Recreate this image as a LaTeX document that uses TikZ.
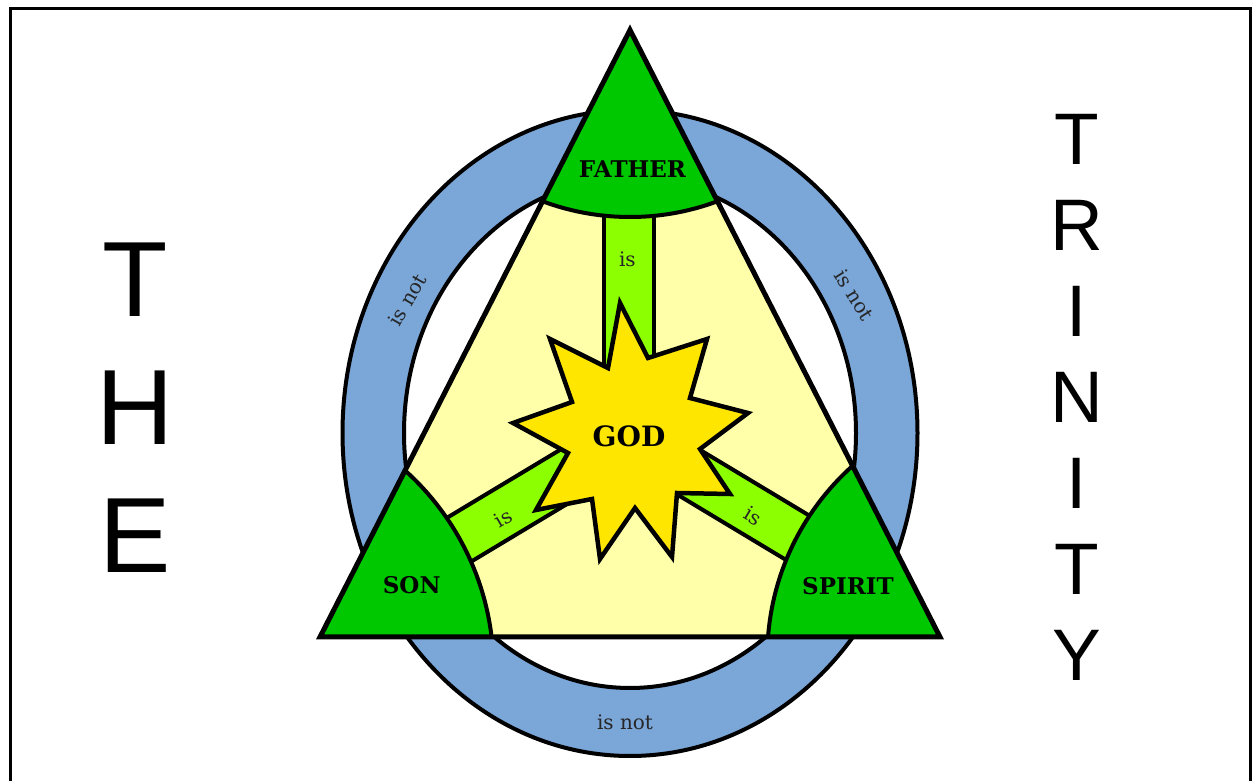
\documentclass[tikz,border=0pt]{standalone}
\usepackage{fontspec}
\setmainfont{DejaVu Serif}
\newfontfamily\titlefont{Liberation Sans}
\definecolor{ringblue}{RGB}{122,166,216}
\definecolor{greenc}{RGB}{0,200,0}
\definecolor{limeg}{RGB}{140,255,0}
\definecolor{paleyellow}{RGB}{255,255,170}
\definecolor{stary}{RGB}{255,230,0}
\begin{document}
\begin{tikzpicture}[x=1pt,y=1pt,line width=4pt,
  lbl/.style={font=\fontsize{20}{20}\selectfont, text=black!85, inner sep=0pt},
  namelbl/.style={font=\fontsize{23}{23}\selectfont\bfseries, inner sep=0pt},
  biglet/.style={font=\titlefont\fontsize{107}{107}\selectfont, inner sep=0pt},
  midlet/.style={font=\titlefont\fontsize{73}{73}\selectfont, inner sep=0pt},
  barbox/.style={fill=limeg, draw=black, line width=4pt}]
\useasboundingbox (0,0) rectangle (1254,780);
% frame
\draw[line width=3pt] (10,-5) -- (10,771) -- (1250,771) -- (1250,-5);
% ring
\draw[fill=ringblue] (630,347) ellipse [x radius=287.5, y radius=323];
\draw[fill=white] (630,347) ellipse [x radius=226, y radius=255];
% triangle
\coordinate (A) at (630,750);
\coordinate (L) at (320,143);
\coordinate (R) at (940,143);
\coordinate (O) at (630,343);
\fill[paleyellow] (A) -- (L) -- (R) -- cycle;
% bars
\draw[barbox] (604,343) rectangle (654,620);
\begin{scope}[shift={(O)}, rotate=211]
  \draw[barbox] (0,-25) rectangle (250,25);
\end{scope}
\begin{scope}[shift={(O)}, rotate=-31]
  \draw[barbox] (0,-25) rectangle (250,25);
\end{scope}
% green corners
\begin{scope}
  \clip (A) -- (L) -- (R) -- cycle;
  \draw[fill=greenc] (630,813) circle [radius=250];
  \draw[fill=greenc] (226.5,111) circle [radius=267];
  \draw[fill=greenc] (1023.3,123.4) circle [radius=256];
\end{scope}
\draw[line width=5pt] (A) -- (L) -- (R) -- cycle;
% star
\draw[fill=stary, line width=4.5pt]
  (620,477) -- (648,422) -- (707,441) -- (690,382) -- (748,367) -- (700,331)
  -- (730,286) -- (677,287) -- (672,223) -- (635,272) -- (600,221) -- (592,281)
  -- (536,270) -- (568,327) -- (513,357) -- (572,378) -- (550,441) -- (608,412) -- cycle;
% labels
\node[namelbl] (father) at (632.5,611) {FATHER};
\node[namelbl] (son) at (411.7,195) {SON};
\node[namelbl] (spirit) at (848,194) {SPIRIT};
\node[namelbl, font=\fontsize{28}{28}\selectfont\bfseries] (god) at (629,344) {GOD};
\node[lbl] (isF) at (627.4,521) {is};
\node[lbl, rotate=31] (isS) at (503.3,262) {is};
\node[lbl, rotate=-31] (isP) at (753.3,264) {is};
\node[lbl, rotate=60] (notL) at (407.5,480) {is not};
\node[lbl, rotate=-58] (notR) at (854.5,485) {is not};
\node[lbl] (notB) at (625,58) {is not};
% titles
\node[biglet] (t1) at (135,500) {T};
\node[biglet] (t2) at (135,372) {H};
\node[biglet] (t3) at (135,244) {E};
\node[midlet] (r1) at (1077,641) {T};
\node[midlet] (r2) at (1077,555) {R};
\node[midlet] (r3) at (1077,469) {I};
\node[midlet] (r4) at (1077,383) {N};
\node[midlet] (r5) at (1077,297) {I};
\node[midlet] (r6) at (1077,211) {T};
\node[midlet] (r7) at (1077,125) {Y};
\end{tikzpicture}
\end{document}
